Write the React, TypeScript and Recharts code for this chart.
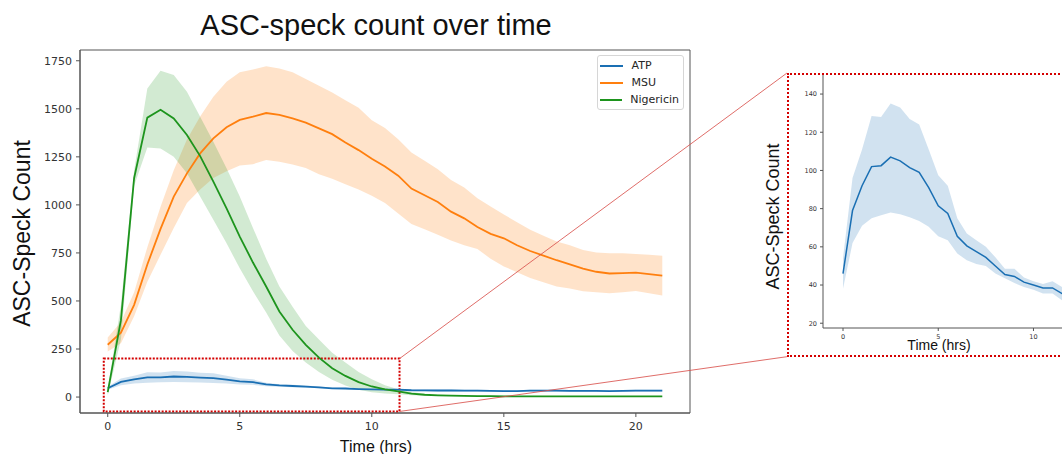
import React from "react";
import {
  ComposedChart,
  Area,
  Line,
  XAxis,
  YAxis,
  ReferenceArea,
  ReferenceLine,
  Legend,
  Label,
} from "recharts";

// time points (hrs)
const hours = [
  0, 0.5, 1, 1.5, 2, 2.5, 3, 3.5, 4, 4.5, 5, 5.5, 6, 6.5, 7, 7.5, 8, 8.5, 9, 9.5, 10,
  10.5, 11, 11.5, 12, 12.5, 13, 13.5, 14, 14.5, 15, 15.5, 16, 16.5, 17, 17.5, 18, 18.5,
  19, 19.5, 20, 20.5, 21,
];

// ATP
const atpMean = [
  46, 79, 92, 102, 102.5, 107, 105, 101.5, 99, 91, 81.5, 77.5, 65.5, 60.5, 57.5, 54.5, 50,
  45.5, 44.5, 41.5, 40, 38.5, 38.5, 35.5, 35, 34, 34, 33, 33, 32, 31, 31, 33, 33, 33, 32, 32,
  32, 31, 32, 33, 33, 33,
];
const atpLow = [
  38, 62, 71, 75, 76.5, 78, 77, 75.5, 73.5, 70.5, 65.5, 63.5, 56.5, 53, 51, 50, 46, 43.5, 41,
  39, 37.5, 35.5, 35.5, 32, 30, 29, 29, 28, 28, 27, 26, 26, 28, 28, 28, 27, 27, 27, 26, 27, 28,
  28, 28,
];
const atpHigh = [
  54, 96, 111, 128.5, 128, 135, 133, 127, 124, 111, 97.5, 92, 75, 67, 63.5, 60, 54.5, 48.5,
  48.5, 44, 42, 40.5, 42, 39, 40, 39, 39, 38, 38, 37, 36, 36, 38, 38, 38, 37, 37, 37, 36, 37,
  38, 38, 38,
];

// MSU
const msuMean = [
  272, 335, 480, 690, 875, 1043, 1164, 1268, 1346, 1404, 1442, 1459, 1478, 1468, 1450, 1428,
  1398, 1368, 1325, 1285, 1240, 1200, 1152, 1085, 1050, 1015, 965, 930, 885, 849, 826, 790,
  760, 736, 712, 690, 668, 652, 643, 645, 647, 640, 632,
];
const msuLow = [
  237, 280, 420, 600, 740, 880, 1010, 1080, 1140, 1175, 1205, 1212, 1234, 1225, 1210, 1192,
  1160, 1136, 1107, 1080, 1048, 1010, 955, 900, 873, 845, 815, 790, 770, 720, 680, 650, 620,
  598, 575, 565, 550, 545, 540, 545, 552, 540, 528,
];
const msuHigh = [
  310, 390, 545, 780, 990, 1180, 1340, 1460, 1563, 1641, 1690, 1705, 1722, 1710, 1690, 1655,
  1620, 1585, 1545, 1505, 1440, 1400, 1342, 1272, 1230, 1185, 1130, 1090, 1035, 991, 950, 910,
  870, 840, 810, 790, 765, 752, 748, 748, 745, 740, 735,
];

// Nigericin
const nigMean = [
  26, 400, 1140, 1454, 1495, 1450, 1364, 1254, 1121, 982, 835, 700, 575, 445, 350, 272, 205,
  150, 110, 78, 55, 40, 29, 18, 12, 9, 7, 6, 5, 5, 4, 4, 4, 3, 3, 3, 3, 3, 3, 3, 3, 3, 3,
];
const nigLow = [
  10, 300, 1100, 1299, 1294, 1251, 1164, 1043, 922, 800, 670, 550, 440, 320, 240, 180, 130, 90,
  60, 38, 25, 18, 14, 10, 7, 5, 4, 3, 2, 2, 2, 2, 2, 1, 1, 1, 1, 1, 1, 1, 1, 1, 1,
];
const nigHigh = [
  40, 480, 1180, 1606, 1698, 1676, 1589, 1459, 1329, 1190, 1043, 880, 720, 575, 470, 370, 300,
  230, 180, 130, 92, 62, 40, 26, 17, 13, 10, 9, 8, 8, 7, 7, 7, 6, 6, 6, 6, 6, 6, 6, 6, 6, 6,
];

const xTicks = [0, 5, 10, 15, 20];
const yTicks = [0, 250, 500, 750, 1000, 1250, 1500, 1750];
const insetYTicks = [20, 40, 60, 80, 100, 120, 140];

const xDomain = [-1.05, 22.05];
const yDomain = [-83, 1806];

// zoom box (data coords of the main axes) and connector end points
const zoomBox = { x1: -0.15, x2: 11.05, y1: -75, y2: 200 };
const connectorTop = [{ x: 11.05, y: 200 }, { x: 25.72, y: 1686 }];
const connectorBottom = [{ x: 11.05, y: -75 }, { x: 25.72, y: 210 }];

const BLUE = "#1a6fb3";
const ORANGE = "#ff7f0e";
const GREEN = "#1d941d";

const series = [
  { name: "ATP", color: BLUE },
  { name: "MSU", color: ORANGE },
  { name: "Nigericin", color: GREEN },
];

const rows = hours.map((h, i) => ({
  h,
  atp: atpMean[i],
  atpBand: [atpLow[i], atpHigh[i]],
  msu: msuMean[i],
  msuBand: [msuLow[i], msuHigh[i]],
  nig: nigMean[i],
  nigBand: [nigLow[i], nigHigh[i]],
}));

const ARIAL = "'Liberation Sans', Arial, sans-serif";
const DEJAVU = "'DejaVu Sans', sans-serif";
const SPINE = "#555";
const tickStyle = { fill: "#333", fontSize: 11, fontFamily: DEJAVU };
const insetTick = { fill: "#333", fontSize: 6.5, fontFamily: DEJAVU };

function LegendBox() {
  return (
    <div
      style={{
        border: "1px solid #d6d6d6",
        borderRadius: 3,
        background: "rgba(255,255,255,0.85)",
        padding: "1px 4px 1px 2px",
        fontFamily: DEJAVU,
        fontSize: 11,
        color: "#262626",
      }}
    >
      {series.map((s) => (
        <div key={s.name} style={{ display: "flex", alignItems: "center", height: 17 }}>
          <span
            style={{ width: 23, height: 0, borderTop: `2px solid ${s.color}`, marginRight: 8.5 }}
          />
          {s.name}
        </div>
      ))}
    </div>
  );
}

function MainChart() {
  return (
    <ComposedChart
      width={1062}
      height={454}
      data={rows}
      margin={{ top: 50, right: 372, bottom: 0, left: 15 }}
    >
      <XAxis
        dataKey="h"
        type="number"
        domain={xDomain}
        ticks={xTicks}
        allowDataOverflow
        height={41}
        tickSize={4}
        tickMargin={5}
        stroke={SPINE}
        tick={tickStyle}
      >
        <Label
          content={() => (
            <text x={376} y={452} textAnchor="middle" fontSize={16} fontFamily={ARIAL} fill="#111">
              Time (hrs)
            </text>
          )}
        />
      </XAxis>
      <YAxis
        type="number"
        domain={yDomain}
        ticks={yTicks}
        allowDataOverflow
        width={65}
        tickSize={4}
        tickMargin={4}
        stroke={SPINE}
        tick={tickStyle}
      >
        <Label
          content={() => (
            <g>
              <text
                x={21.5}
                y={233.5}
                transform="rotate(-90 21.5 233.5)"
                textAnchor="middle"
                dominantBaseline="central"
                fontSize={23}
                fontFamily={ARIAL}
                fill="#111"
              >
                ASC-Speck Count
              </text>
              <text x={376} y={35} textAnchor="middle" fontSize={29} fontFamily={ARIAL} fill="#111">
                ASC-speck count over time
              </text>
            </g>
          )}
        />
      </YAxis>

      <Area dataKey="atpBand" type="linear" stroke="none" fill={BLUE} fillOpacity={0.2} isAnimationActive={false} />
      <Area dataKey="msuBand" type="linear" stroke="none" fill={ORANGE} fillOpacity={0.22} isAnimationActive={false} />
      <Area dataKey="nigBand" type="linear" stroke="none" fill={GREEN} fillOpacity={0.2} isAnimationActive={false} />
      <Line dataKey="atp" type="linear" stroke={BLUE} strokeWidth={1.8} dot={false} isAnimationActive={false} />
      <Line dataKey="msu" type="linear" stroke={ORANGE} strokeWidth={1.8} dot={false} isAnimationActive={false} />
      <Line dataKey="nig" type="linear" stroke={GREEN} strokeWidth={1.8} dot={false} isAnimationActive={false} />

      {/* full axes frame (top and right spines) */}
      <ReferenceArea
        x1={xDomain[0]}
        x2={xDomain[1]}
        y1={yDomain[0]}
        y2={yDomain[1]}
        fill="none"
        fillOpacity={0}
        stroke={SPINE}
        strokeWidth={1}
        ifOverflow="visible"
      />
      <ReferenceArea
        {...zoomBox}
        fill="none"
        fillOpacity={0}
        stroke="#d40000"
        strokeWidth={2}
        strokeDasharray="2 1.5"
        ifOverflow="visible"
      />
      <ReferenceLine segment={connectorTop} stroke="#d9534f" strokeOpacity={0.85} strokeWidth={1} ifOverflow="visible" />
      <ReferenceLine segment={connectorBottom} stroke="#d9534f" strokeOpacity={0.85} strokeWidth={1} ifOverflow="visible" />

      <Legend
        layout="vertical"
        align="center"
        verticalAlign="middle"
        content={() => <LegendBox />}
        wrapperStyle={{ left: 597, top: 55, width: 87 }}
      />
    </ComposedChart>
  );
}

function InsetChart() {
  return (
    <ComposedChart
      width={520}
      height={300}
      data={rows}
      margin={{ top: 14, right: 17, bottom: 0, left: 0 }}
    >
      <XAxis
        dataKey="h"
        type="number"
        domain={xDomain}
        ticks={xTicks}
        allowDataOverflow
        height={32}
        tickSize={3}
        tickMargin={3}
        stroke={SPINE}
        tick={insetTick}
      >
        <Label
          content={() => (
            <text x={179} y={290} textAnchor="middle" fontSize={14} fontFamily={ARIAL} fill="#111">
              Time (hrs)
            </text>
          )}
        />
      </XAxis>
      <YAxis
        type="number"
        domain={[17.5, 150.5]}
        ticks={insetYTicks}
        allowDataOverflow
        width={63}
        tickSize={3}
        tickMargin={3}
        stroke={SPINE}
        tick={insetTick}
      >
        <Label
          content={() => (
            <text
              x={13}
              y={156.5}
              transform="rotate(-90 13 156.5)"
              textAnchor="middle"
              dominantBaseline="central"
              fontSize={18}
              fontFamily={ARIAL}
              fill="#111"
            >
              ASC-Speck Count
            </text>
          )}
        />
      </YAxis>
      <Area dataKey="atpBand" type="linear" stroke="none" fill={BLUE} fillOpacity={0.2} isAnimationActive={false} />
      <Line dataKey="atp" type="linear" stroke={BLUE} strokeWidth={1.5} dot={false} isAnimationActive={false} />
    </ComposedChart>
  );
}

export default function App() {
  return (
    <div
      style={{
        position: "absolute",
        left: 0,
        top: 0,
        width: 1062,
        height: 454,
        overflow: "hidden",
        background: "#fff",
      }}
    >
      <div style={{ position: "absolute", left: 0, top: 0 }}>
        <MainChart />
      </div>
      <div style={{ position: "absolute", left: 760, top: 60 }}>
        <InsetChart />
      </div>
      <div
        style={{
          position: "absolute",
          left: 787,
          top: 73,
          width: 400,
          height: 284,
          boxSizing: "border-box",
          border: "2px dotted #d40000",
          pointerEvents: "none",
        }}
      />
    </div>
  );
}
